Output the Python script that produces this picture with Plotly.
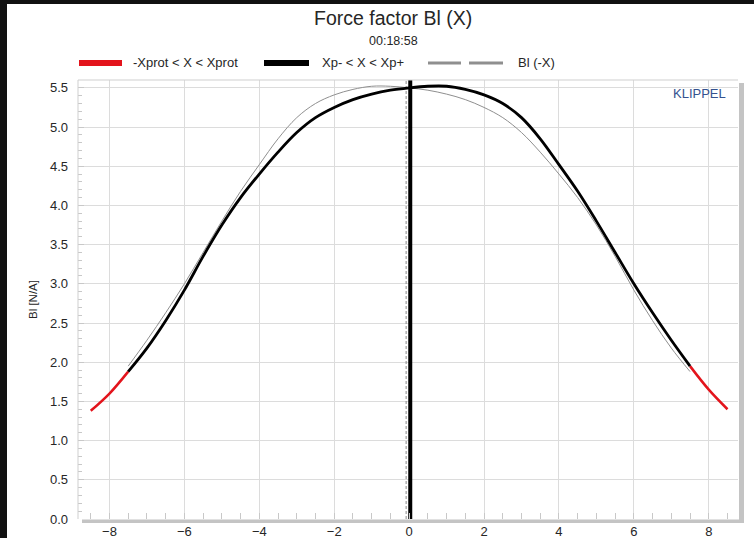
import numpy as np
import plotly.graph_objects as go

# ---------------- data ----------------
x_mm = [-8.5, -8.0, -7.5, -7.0, -6.5, -6.0, -5.5, -5.0, -4.5, -4.0, -3.5, -3.0,
        -2.5, -2.0, -1.5, -1.0, -0.5, 0.0, 0.5, 1.0, 1.5, 2.0, 2.5, 3.0, 3.5,
        4.0, 4.5, 5.0, 5.5, 6.0, 6.5, 7.0, 7.5, 8.0, 8.5]
bl_values = [1.38, 1.60, 1.88, 2.18, 2.53, 2.92, 3.35, 3.75, 4.10, 4.40, 4.68, 4.93,
             5.12, 5.25, 5.35, 5.42, 5.47, 5.50, 5.52, 5.52, 5.48, 5.41, 5.30, 5.12, 4.85,
             4.52, 4.18, 3.80, 3.40, 3.00, 2.63, 2.28, 1.95, 1.65, 1.40]
xp_limits = [-7.5, 7.5]          # Xp- / Xp+ (end of black range)
rest_position = [0.03]           # thick black vertical marker
zero_line = [-0.08]              # dashed grey marker
y_range = [0.0, 5.6]
x_range = [-8.84, 8.78]

title_text = "Force factor Bl (X)"
subtitle_text = "00:18:58"
legend_labels = ["-Xprot < X < Xprot", "Xp- < X < Xp+", "Bl (-X)"]
y_title = "Bl [N/A]"
brand = "KLIPPEL"

# ---------------- build ----------------
x = np.array(x_mm)
y = np.array(bl_values)
left_red = x <= xp_limits[0]
right_red = x >= xp_limits[1]
mid = (x >= xp_limits[0]) & (x <= xp_limits[1])

W, H = 754, 538
L, R, T, B = 78, 738, 80, 519  # plot area in px


def px(xp):
    return (xp - L) / (R - L)


def py(yp):
    return (B - yp) / (B - T)


FONT = "Liberation Sans, Arial, sans-serif"
RED = "#e3141c"
GREY = "#8f8f8f"
TXT = "#262626"

fig = go.Figure()

# mirrored curve Bl(-X)
fig.add_trace(go.Scatter(x=-x[mid], y=y[mid], mode="lines", line=dict(color=GREY, width=1, shape="spline"),
                         name=legend_labels[2], showlegend=False, hoverinfo="skip"))
# dashed zero line
fig.add_trace(go.Scatter(x=zero_line * 2, y=y_range, mode="lines",
                         line=dict(color="#8a8a8a", width=1, dash="3px,2px"), showlegend=False))
# thick rest-position line
fig.add_trace(go.Scatter(x=rest_position * 2, y=y_range, mode="lines",
                         line=dict(color="black", width=4), showlegend=False))
# red ends (-Xprot < X < Xprot)
fig.add_trace(go.Scatter(x=x[left_red], y=y[left_red], mode="lines", line=dict(color=RED, width=2.5, shape="spline"),
                         name=legend_labels[0], showlegend=False))
fig.add_trace(go.Scatter(x=x[right_red], y=y[right_red], mode="lines", line=dict(color=RED, width=2.5, shape="spline"),
                         showlegend=False))
# black main curve (Xp- < X < Xp+)
fig.add_trace(go.Scatter(x=x[mid], y=y[mid], mode="lines", line=dict(color="black", width=2.8, shape="spline"),
                         name=legend_labels[1], showlegend=False))

shapes = []
# outer black frame (left and top)
shapes.append(dict(type="rect", xref="paper", yref="paper", x0=px(0), x1=px(7), y0=py(H), y1=py(0),
                   fillcolor="#111111", line_width=0, layer="above"))
shapes.append(dict(type="rect", xref="paper", yref="paper", x0=px(0), x1=px(W), y0=py(4), y1=py(0),
                   fillcolor="#111111", line_width=0, layer="above"))
# drop shadow (right, bottom)
shapes.append(dict(type="rect", xref="paper", yref="paper", x0=px(739), x1=px(744), y0=py(523), y1=py(83),
                   fillcolor="#c4c4c4", line_width=0, layer="above"))
shapes.append(dict(type="rect", xref="paper", yref="paper", x0=px(82), x1=px(744), y0=py(523), y1=py(519.5),
                   fillcolor="#c4c4c4", line_width=0, layer="above"))
# plot border top/left
shapes.append(dict(type="line", xref="paper", yref="paper", x0=0, x1=1, y0=1, y1=1,
                   line=dict(color="#cfcfcf", width=1)))
shapes.append(dict(type="line", xref="paper", yref="paper", x0=0, x1=0, y0=0, y1=1,
                   line=dict(color="#cfcfcf", width=1)))

# legend (drawn manually to match sample lengths)
ly = py(63)
shapes.append(dict(type="line", xref="paper", yref="paper", x0=px(79), x1=px(122), y0=ly, y1=ly,
                   line=dict(color=RED, width=6)))
shapes.append(dict(type="line", xref="paper", yref="paper", x0=px(264), x1=px(309), y0=ly, y1=ly,
                   line=dict(color="black", width=6)))
shapes.append(dict(type="line", xref="paper", yref="paper", x0=px(428), x1=px(461), y0=ly, y1=ly,
                   line=dict(color=GREY, width=3)))
shapes.append(dict(type="line", xref="paper", yref="paper", x0=px(469), x1=px(503), y0=ly, y1=ly,
                   line=dict(color=GREY, width=3)))

annotations = [
    dict(text=title_text, x=px(393), y=py(18), xref="paper", yref="paper", showarrow=False,
         font=dict(family=FONT, size=19.5, color=TXT), xanchor="center", yanchor="middle"),
    dict(text=subtitle_text, x=px(393), y=py(41), xref="paper", yref="paper", showarrow=False,
         font=dict(family=FONT, size=12.5, color=TXT), xanchor="center", yanchor="middle"),
    dict(text=legend_labels[0], x=px(131), y=ly, xref="paper", yref="paper", showarrow=False,
         font=dict(family=FONT, size=13, color=TXT), xanchor="left", yanchor="middle"),
    dict(text=legend_labels[1], x=px(320), y=ly, xref="paper", yref="paper", showarrow=False,
         font=dict(family=FONT, size=13, color=TXT), xanchor="left", yanchor="middle"),
    dict(text=legend_labels[2], x=px(516), y=ly, xref="paper", yref="paper", showarrow=False,
         font=dict(family=FONT, size=13, color=TXT), xanchor="left", yanchor="middle"),
    dict(text=y_title, x=px(33), y=py(300), xref="paper", yref="paper", showarrow=False, textangle=-90,
         font=dict(family=FONT, size=11.5, color=TXT), xanchor="center", yanchor="middle"),
    dict(text=brand, x=px(728), y=py(94), xref="paper", yref="paper", showarrow=False,
         font=dict(family=FONT, size=13, color="#34528f"), xanchor="right", yanchor="middle"),
]

fig.update_layout(
    width=W, height=H, autosize=False,
    margin=dict(l=L, r=W - R, t=T, b=H - B, pad=0),
    paper_bgcolor="white", plot_bgcolor="white",
    showlegend=False,
    shapes=shapes, annotations=annotations,
    font=dict(family=FONT, size=12, color=TXT),
)
fig.update_xaxes(range=x_range, dtick=2, tick0=0, showgrid=True, gridcolor="#dcdcdc", gridwidth=1,
                 zeroline=False, showline=False, ticks="inside", ticklen=6, tickcolor="#c8c8c8",
                 ticklabelstandoff=3, automargin=False,
                 tickfont=dict(family=FONT, size=13, color=TXT),
                 minor=dict(dtick=0.5, tick0=0, ticks="inside", ticklen=6, tickcolor="#c8c8c8", showgrid=False))
fig.update_yaxes(range=y_range, dtick=0.5, tick0=0, tickformat=".1f", showgrid=True, gridcolor="#dcdcdc",
                 gridwidth=1, zeroline=False, showline=False, ticks="inside", ticklen=6, tickcolor="#c8c8c8",
                 ticklabelstandoff=9, automargin=False,
                 tickfont=dict(family=FONT, size=13, color=TXT),
                 minor=dict(dtick=0.1, tick0=0, ticks="inside", ticklen=4, tickcolor="#c8c8c8", showgrid=False))

fig.write_html("out.html",
               config=dict(displayModeBar=False, responsive=False),
               post_script="document.body.style.margin='0';document.body.style.overflow='hidden';")
